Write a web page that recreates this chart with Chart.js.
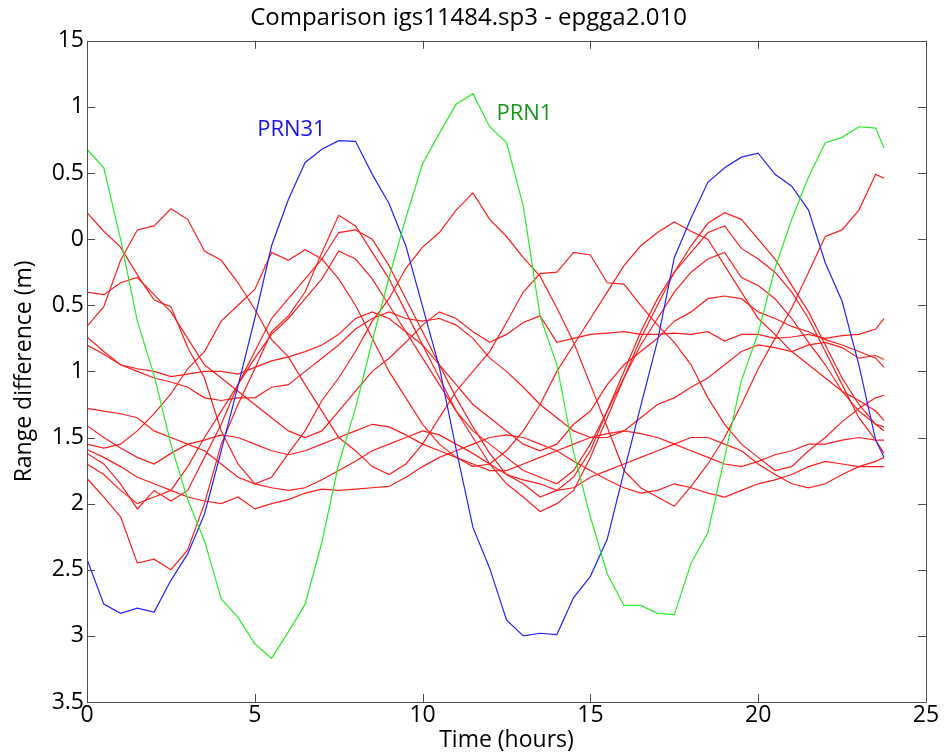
<!DOCTYPE html>
<html>
<head>
<meta charset="utf-8">
<script src="https://cdn.jsdelivr.net/npm/chart.js@4.4.1/dist/chart.umd.min.js"></script>
<style>
  html, body { margin: 0; padding: 0; background: #fff; }
  canvas { display: block; }
</style>
</head>
<body>
<canvas id="chart" width="945" height="754"></canvas>
<script>
// time axis (hours), one sample every half hour
const hours = [0,0.5,1,1.5,2,2.5,3,3.5,4,4.5, 5,5.5,6,6.5,7,7.5,8,8.5,9,9.5,
  10,10.5,11,11.5,12,12.5,13,13.5,14,14.5, 15,15.5,16,16.5,17,17.5,18,18.5,19,19.5,
  20,20.5,21,21.5,22,22.5,23,23.5,23.75];

// y tick labels as printed on the original (top to bottom)
const yTickLabels = ["15","1","0.5","0","0.5","1","1.5","2","2.5","3","3.5"];

// highlighted satellites
const prn31 = [2.42,2.76,2.83,2.79,2.82,2.58,2.38,2.08,1.60,1.11, 0.60,0.05,-0.30,-0.58,-0.68,-0.745,-0.74,-0.49,-0.27,0.05,
  0.51,0.97,1.59,2.18,2.49,2.88,3.00,2.98,2.99,2.71, 2.55,2.27,1.76,1.26,0.77,0.14,-0.16,-0.43,-0.54,-0.62,
  -0.65,-0.49,-0.40,-0.22,0.18,0.47,0.95,1.52,1.65];
const prn1 = [-0.68,-0.54,0.00,0.62,1.03,1.55,1.97,2.28,2.72,2.86, 3.06,3.17,2.97,2.76,2.29,1.70,1.28,0.77,0.29,-0.16,
  -0.57,-0.80,-1.02,-1.10,-0.85,-0.73,-0.25,0.58,0.95,1.61, 2.10,2.53,2.77,2.77,2.83,2.84,2.45,2.22,1.65,1.07,
  0.71,0.22,-0.15,-0.47,-0.73,-0.77,-0.85,-0.84,-0.69];

// the other satellites (red)
const sat01 = [-0.20,-0.06,0.06,0.27,0.46,0.51,0.82,1.05,1.45,1.70, 1.85,1.80,1.62,1.45,1.22,1.05,0.85,0.62,0.45,0.22,
  0.06,-0.05,-0.22,-0.35,-0.15,-0.02,0.14,0.28,0.52,0.78, 1.10,1.42,1.75,1.88,1.95,2.02,1.87,1.70,1.50,1.25,
  0.98,0.75,0.52,0.25,-0.02,-0.07,-0.22,-0.49,-0.46];
const sat02 = [0.66,0.51,0.16,-0.07,-0.10,-0.23,-0.15,0.09,0.16,0.33, 0.53,0.76,0.89,1.10,1.30,1.50,1.60,1.72,1.78,1.70,
  1.55,1.35,1.15,1.00,0.85,0.63,0.40,0.26,0.25,0.10, 0.12,0.33,0.34,0.50,0.65,0.78,0.95,1.20,1.40,1.55,
  1.65,1.75,1.72,1.60,1.50,1.38,1.28,1.20,1.18];
const sat03 = [1.81,1.95,2.10,2.45,2.42,2.50,2.35,2.00,1.55,1.25, 0.98,0.70,0.58,0.40,0.10,-0.18,-0.10,0.10,0.30,0.55,
  0.80,1.05,1.30,1.50,1.70,1.85,1.95,2.06,2.00,1.90, 1.65,1.35,1.05,0.75,0.50,0.25,0.05,-0.12,-0.20,-0.15,
  0.00,0.15,0.35,0.55,0.80,1.05,1.25,1.40,1.45];
const sat04 = [1.62,1.70,1.85,2.04,1.90,1.98,1.90,1.65,1.40,1.10, 0.85,0.60,0.45,0.30,0.15,-0.05,-0.07,0.00,0.20,0.45,
  0.70,0.95,1.20,1.42,1.62,1.78,1.85,1.95,1.90,1.80, 1.60,1.30,1.00,0.70,0.45,0.25,0.10,-0.05,-0.10,0.07,
  0.15,0.25,0.40,0.60,0.85,1.10,1.35,1.52,1.62];
const sat05 = [1.70,1.78,1.90,2.00,1.95,1.90,1.72,1.50,1.30,1.10, 0.90,0.72,0.60,0.45,0.30,0.09,0.15,0.30,0.50,0.70,
  0.90,1.10,1.30,1.45,1.55,1.65,1.75,1.80,1.85,1.75, 1.55,1.30,1.05,0.80,0.60,0.40,0.25,0.15,0.10,0.29,
  0.35,0.45,0.60,0.78,0.95,1.15,1.30,1.40,1.42];
const sat06 = [1.55,1.58,1.55,1.45,1.32,1.17,0.98,0.85,0.62,0.50, 0.38,0.10,0.16,0.08,0.15,0.30,0.50,0.75,1.00,1.20,
  1.40,1.55,1.65,1.72,1.70,1.60,1.45,1.25,1.00,0.80, 0.60,0.40,0.20,0.05,-0.05,-0.13,-0.06,0.00,0.20,0.40,
  0.60,0.72,0.85,0.95,1.05,1.15,1.22,1.30,1.37];
const sat07 = [0.40,0.42,0.33,0.29,0.42,0.55,0.75,0.95,1.05,1.15, 1.25,1.35,1.45,1.50,1.45,1.30,1.15,1.00,0.90,0.78,
  0.65,0.55,0.60,0.70,0.78,0.72,0.63,0.58,0.78,0.75, 0.72,0.71,0.70,0.72,0.72,0.71,0.72,0.70,0.77,0.72,
  0.72,0.75,0.74,0.72,0.75,0.73,0.72,0.68,0.60];
const sat08 = [0.74,0.85,0.95,0.98,1.00,1.04,1.02,1.00,1.00,1.02, 0.97,0.92,0.89,0.85,0.80,0.72,0.60,0.55,0.60,0.70,
  0.80,0.95,1.10,1.25,1.35,1.45,1.55,1.60,1.55,1.40, 1.30,1.10,0.95,0.85,0.75,0.62,0.55,0.45,0.43,0.45,
  0.55,0.60,0.66,0.70,0.76,0.80,0.85,0.90,0.97];
const sat09 = [0.80,0.87,0.95,1.00,1.05,1.08,1.12,1.20,1.22,1.20, 1.20,1.12,1.10,1.00,0.90,0.80,0.68,0.60,0.55,0.60,
  0.62,0.60,0.65,0.75,0.90,1.00,1.12,1.25,1.35,1.45, 1.50,1.50,1.45,1.35,1.25,1.20,1.12,1.05,0.95,0.85,
  0.80,0.82,0.85,0.80,0.78,0.82,0.90,0.88,0.91];
const sat10 = [1.28,1.30,1.32,1.35,1.45,1.50,1.55,1.52,1.48,1.50, 1.55,1.60,1.63,1.60,1.55,1.50,1.45,1.40,1.42,1.48,
  1.55,1.60,1.65,1.70,1.75,1.75,1.70,1.65,1.60,1.55, 1.50,1.47,1.45,1.47,1.50,1.55,1.60,1.65,1.70,1.72,
  1.68,1.63,1.60,1.55,1.55,1.52,1.50,1.52,1.52];
const sat11 = [1.41,1.50,1.58,1.65,1.70,1.62,1.55,1.60,1.70,1.80, 1.85,1.88,1.90,1.88,1.82,1.75,1.68,1.60,1.55,1.50,
  1.45,1.48,1.55,1.62,1.70,1.78,1.82,1.85,1.90,1.88, 1.80,1.75,1.70,1.65,1.60,1.55,1.50,1.50,1.55,1.60,
  1.70,1.78,1.85,1.88,1.85,1.78,1.72,1.68,1.65];
const sat12 = [1.59,1.65,1.72,1.80,1.85,1.90,1.95,1.98,2.00,1.95, 2.04,2.00,1.97,1.92,1.89,1.90,1.89,1.88,1.87,1.80,
  1.72,1.65,1.60,1.55,1.50,1.48,1.50,1.55,1.60,1.68, 1.75,1.82,1.88,1.92,1.90,1.85,1.88,1.92,1.95,1.90,
  1.85,1.82,1.78,1.72,1.68,1.70,1.72,1.72,1.72];

const redSats = [sat01, sat02, sat03, sat04, sat05, sat06, sat07, sat08, sat09, sat10, sat11, sat12];

const FONT = "'Open Sans', 'DejaVu Sans', sans-serif";
const RED = 'rgb(255,30,30)';
const BLUE = 'rgb(35,35,255)';
const GREEN = 'rgb(40,235,40)';

function toPoints(values) {
    return values.map((v, i) => ({ x: hours[i], y: v }));
}

const datasets = [
    { label: 'PRN1', data: toPoints(prn1), borderColor: GREEN },
    { label: 'PRN31', data: toPoints(prn31), borderColor: BLUE }
];
redSats.forEach((s, i) => {
    datasets.push({ label: 'sat' + (i + 1), data: toPoints(s), borderColor: RED });
});

// matlab style box with inward ticks, plus the two satellite labels
const matlabBox = {
    id: 'matlabBox',
    afterDraw(chart) {
        const { ctx, chartArea, scales } = chart;
        const { left, right, top, bottom } = chartArea;
        ctx.save();
        ctx.strokeStyle = '#4d4d4d';
        ctx.lineWidth = 1;
        ctx.beginPath();
        ctx.rect(Math.round(left) + 0.5, Math.round(top) + 0.5, Math.round(right - left), Math.round(bottom - top));
        scales.x.ticks.forEach(t => {
            const px = Math.round(scales.x.getPixelForValue(t.value)) + 0.5;
            ctx.moveTo(px, bottom); ctx.lineTo(px, bottom - 8);
            ctx.moveTo(px, top); ctx.lineTo(px, top + 8);
        });
        scales.y.ticks.forEach(t => {
            const py = Math.round(scales.y.getPixelForValue(t.value)) + 0.5;
            ctx.moveTo(left, py); ctx.lineTo(left + 8, py);
            ctx.moveTo(right, py); ctx.lineTo(right - 8, py);
        });
        ctx.stroke();

        ctx.font = '22px ' + FONT;
        ctx.textBaseline = 'middle';
        ctx.textAlign = 'left';
        ctx.fillStyle = 'rgb(20,20,235)';
        ctx.fillText('PRN31', scales.x.getPixelForValue(5.07), scales.y.getPixelForValue(-0.83));
        ctx.fillStyle = 'rgb(25,150,25)';
        ctx.fillText('PRN1', scales.x.getPixelForValue(12.2), scales.y.getPixelForValue(-0.95));
        ctx.restore();
    }
};

new Chart(document.getElementById('chart'), {
    type: 'line',
    data: { datasets: datasets },
    options: {
        responsive: false,
        animation: false,
        devicePixelRatio: 1,
        elements: {
            point: { radius: 0 },
            line: { borderWidth: 1.2, tension: 0, fill: false }
        },
        layout: { padding: { left: 11, right: 19, top: 0, bottom: 0 } },
        plugins: {
            legend: { display: false },
            tooltip: { enabled: false },
            title: {
                display: true,
                text: 'Comparison igs11484.sp3 - epgga2.010',
                color: '#000',
                font: { family: FONT, size: 24, weight: 'normal' },
                padding: { top: 4, bottom: 8 }
            }
        },
        scales: {
            x: {
                type: 'linear',
                min: 0,
                max: 25,
                ticks: { stepSize: 5, color: '#000', font: { family: FONT, size: 23 }, padding: 0, maxRotation: 0 },
                grid: { display: false, drawTicks: false },
                border: { display: false },
                title: { display: true, text: 'Time (hours)', color: '#000', font: { family: FONT, size: 23 }, padding: 0 },
                afterFit(scale) { scale.height = 52; }
            },
            y: {
                type: 'linear',
                reverse: true,
                min: -1.5,
                max: 3.5,
                ticks: {
                    stepSize: 0.5,
                    color: '#000',
                    font: { family: FONT, size: 23 },
                    padding: 3,
                    callback: (value) => yTickLabels[Math.round((value + 1.5) / 0.5)]
                },
                grid: { display: false, drawTicks: false },
                border: { display: false },
                title: { display: true, text: 'Range difference (m)', color: '#000', font: { family: FONT, size: 23 }, padding: 0 },
                afterFit(scale) { scale.width = 76; }
            }
        }
    },
    plugins: [matlabBox]
});
</script>
</body>
</html>
